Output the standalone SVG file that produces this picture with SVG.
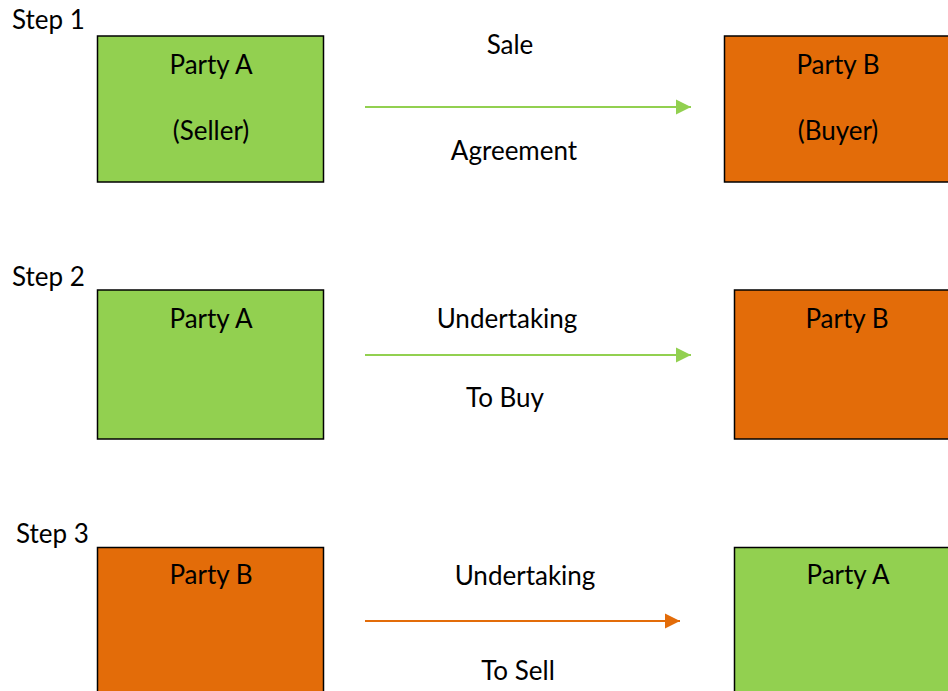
<svg xmlns="http://www.w3.org/2000/svg" width="948" height="691" viewBox="0 0 948 691">
<style>
text{font-family:"Lato","Open Sans","Liberation Sans",sans-serif;font-size:26px;fill:#000}
.c{text-anchor:middle}
.g{fill:#92D050;stroke:#000;stroke-width:1.5}
.o{fill:#E36C09;stroke:#000;stroke-width:1.5}
.lg{stroke:#92D050;stroke-width:2;fill:none}
.lo{stroke:#E36C09;stroke-width:2;fill:none}
</style>
<defs>
<marker id="ag" markerUnits="userSpaceOnUse" markerWidth="16" markerHeight="16" refX="15" refY="8" orient="auto"><path d="M0,0.5 L15,8 L0,15.5 Z" fill="#92D050"/></marker>
<marker id="ao" markerUnits="userSpaceOnUse" markerWidth="16" markerHeight="16" refX="15" refY="8" orient="auto"><path d="M0,0.5 L15,8 L0,15.5 Z" fill="#E36C09"/></marker>
</defs>
<rect width="948" height="691" fill="#fff"/>
<text x="12" y="29">Step 1</text>
<text x="12" y="286">Step 2</text>
<text x="16" y="543">Step 3</text>
<g id="s1a"><rect class="g" x="97.5" y="36" width="226" height="146"/><text class="c" x="211" y="74">Party A</text><text class="c" x="211" y="140">(Seller)</text></g>
<g id="s1b"><rect class="o" x="724.5" y="36" width="240" height="146"/><text class="c" x="838" y="74">Party B</text><text class="c" x="838" y="140">(Buyer)</text></g>
<g id="s2a"><rect class="g" x="97.5" y="290" width="226" height="149"/><text class="c" x="211" y="328">Party A</text></g>
<g id="s2b"><rect class="o" x="734.5" y="290" width="240" height="149"/><text class="c" x="847" y="328">Party B</text></g>
<g id="s3a"><rect class="o" x="97.5" y="547.5" width="226" height="160"/><text class="c" x="211" y="584">Party B</text></g>
<g id="s3b"><rect class="g" x="734.5" y="547.5" width="240" height="160"/><text class="c" x="848" y="584">Party A</text></g>
<g id="connectors">
<line class="lg" x1="365" y1="107" x2="691" y2="107" marker-end="url(#ag)"/>
<line class="lg" x1="365" y1="355" x2="691" y2="355" marker-end="url(#ag)"/>
<line class="lo" x1="365" y1="621" x2="680" y2="621" marker-end="url(#ao)"/>
<text class="c" x="510" y="54">Sale</text>
<text class="c" x="514" y="160">Agreement</text>
<text class="c" x="507" y="328">Undertaking</text>
<text class="c" x="505" y="407">To Buy</text>
<text class="c" x="525" y="585">Undertaking</text>
<text class="c" x="518" y="680">To Sell</text>
</g>
</svg>
